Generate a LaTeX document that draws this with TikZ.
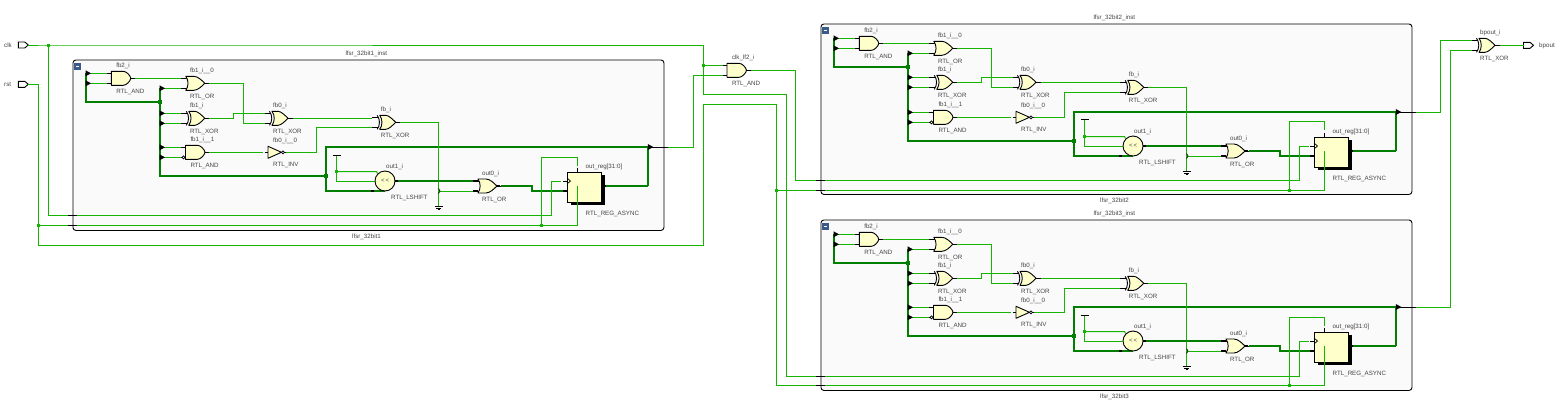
\documentclass[tikz,border=0pt]{standalone}
\usepackage{fontspec}
\setmainfont{Liberation Sans}
\definecolor{wirec}{HTML}{14B400}
\definecolor{busc}{HTML}{007F00}
\definecolor{gatec}{HTML}{FFFFCC}
\definecolor{boxc}{HTML}{FAFAFA}
\definecolor{labc}{HTML}{444444}
\definecolor{iconc}{HTML}{3B5A8C}
\tikzset{
  wire/.style={draw=wirec,line width=1pt},
  bus/.style={draw=busc,line width=2pt},
  pin/.style={draw=black,line width=0.9pt},
  tpin/.style={draw=black,line width=2pt},
  gatebody/.style={draw=black,fill=gatec,line width=0.9pt,line join=round},
  lab/.style={font=\fontsize{6.2}{7}\selectfont,text=labc,inner sep=0pt,anchor=west,yshift=-0.7pt},
  blockbox/.style={draw=black,fill=boxc,line width=0.9pt,rounded corners=3pt},
  dot/.style={fill=wirec},
  dotb/.style={fill=busc},
  portshape/.style={draw=black,fill=white,line width=0.9pt}
}
% gate macros: name, left x, centre y, top label, bottom label
\newcommand\gatelabels[5]{%
  \path (#1) ++(#2,-13) node[lab] (#1-t) {#3};
  \path (#1) ++(#2,13.2) node[lab] (#1-u) {#4};
}
\newcommand\gatepins[1]{%
  \path (#1) ++(-4.5,-5) coordinate (#1-a);
  \path (#1) ++(-4.5,5) coordinate (#1-b);
  \path (#1) ++(19,0) coordinate (#1-e);
  \path (#1) ++(23.5,0) coordinate (#1-o);
  \draw[pin] (#1-a) -- ++(6,0);
  \draw[pin] (#1-b) -- ++(6,0);
  \draw[pin] (#1-e) -- (#1-o);
}
\newcommand\GAND[5]{%
  \coordinate (#1) at (#2,#3);
  \gatepins{#1}
  \begin{scope}[shift={(#2,#3)}]
    \draw[gatebody] (0,-7) -- (12,-7) .. controls (15,-7) and (19,-3) .. (19.5,0)
      .. controls (19,3) and (15,7) .. (12,7) -- (0,7) -- cycle;
  \end{scope}
  \gatelabels{#1}{4.8}{#4}{#5}{}
}
\newcommand\GOR[5]{%
  \coordinate (#1) at (#2,#3);
  \gatepins{#1}
  \begin{scope}[shift={(#2,#3)}]
    \draw[gatebody] (0,-7) -- (8,-7) .. controls (12,-7) and (16,-3) .. (19,0)
      .. controls (16,3) and (12,7) .. (8,7) -- (0,7)
      .. controls (3,3) and (3,-3) .. (0,-7) -- cycle;
  \end{scope}
  \gatelabels{#1}{4}{#4}{#5}{}
}
\newcommand\GXOR[5]{%
  \coordinate (#1) at (#2,#3);
  \gatepins{#1}
  \begin{scope}[shift={(#2,#3)}]
    \draw[gatebody] (3,-7) -- (9,-7) .. controls (12,-7) and (16,-3) .. (19,0)
      .. controls (16,3) and (12,7) .. (9,7) -- (3,7)
      .. controls (6,3) and (6,-3) .. (3,-7) -- cycle;
    \draw[line width=0.9pt] (0.5,-7) .. controls (3.5,-3) and (3.5,3) .. (0.5,7);
  \end{scope}
  \gatelabels{#1}{4}{#4}{#5}{}
}
\newcommand\marker[2]{\fill[black] (#1-0.5,#2-3) -- (#1+5,#2) -- (#1-0.5,#2+3) -- cycle;}
\newcommand\jct[1]{\path[dot] (#1) ++(-1.5,-1.5) rectangle ++(3,3);}
\newcommand\jctb[1]{\path[dotb] (#1) ++(-2,-2) rectangle ++(4,4);}
% block: number, ox, oy, a, b, c, clk y, rst y
\newcommand\lfsrblock[8]{%
\begin{scope}[shift={(#2,#3)}]
  \node[blockbox,minimum width=591pt,minimum height=170.5pt,anchor=north west,inner sep=0pt] (b#1-box) at (0,0) {};
  \path[fill=iconc] (1.5,3) rectangle (8.5,10);
  \draw[white,line width=0.8pt] (3.2,6.5) -- (6.8,6.5);
  \node[lab] (b#1-inst) at (272.8,-6) {lfsr\_32bit#1\_inst};
  \node[lab] (b#1-name) at (279.5,176.8) {lfsr\_32bit#1};
  % named points
  \coordinate (b#1-s1) at (13.5,14.8+#4);
  \coordinate (b#1-s2) at (13.5,24.8+#4);
  \coordinate (b#1-j1) at (87.5,43.5+#4);
  \coordinate (b#1-s3) at (87.5,29.8+#4);
  \coordinate (b#1-s4) at (87.5,53.8);
  \coordinate (b#1-s5) at (87.5,63.8);
  \coordinate (b#1-s6) at (87.5,87.8+#5);
  \coordinate (b#1-s7) at (87.5,97.8+#5);
  \coordinate (b#1-b0) at (87.5,116.5+#5);
  \coordinate (b#1-j2) at (253.5,116.5+#5);
  \coordinate (b#1-t0) at (253.5,87.5+#5);
  \coordinate (b#1-t1) at (253.5,131.5+#5);
  \coordinate (b#1-t2) at (575.8,87.5+#5);
  \coordinate (b#1-t3) at (575.8,126.5+#5);
  \coordinate (b#1-out) at (595.5,87.5+#5);
  \coordinate (b#1-tee) at (264,95.8);
  \coordinate (b#1-tj) at (264,112+#5);
  \coordinate (b#1-ts) at (264,121.5+#5);
  \coordinate (b#1-gnd) at (366,146.5+#5);
  \coordinate (b#1-cl) at (479,#7);
  \coordinate (b#1-ck) at (479,121.5+#5);
  \coordinate (b#1-rl) at (468.8,#8);
  \coordinate (b#1-rt) at (468.8,98);
  \coordinate (b#1-rr) at (504+#6,#8);
  \coordinate (b#1-rp) at (504+#6,98);
  \coordinate (b#1-ec) at (0,#7);
  \coordinate (b#1-er) at (0,#8);
  % buses
  \draw[bus,line join=miter] (b#1-s1) -- (b#1-s1 |- b#1-j1) -- (b#1-j1);
  \draw[bus] (b#1-s3) -- (b#1-b0) -- (b#1-j2);
  \draw[bus] (b#1-t2) -- (b#1-t0) -- (b#1-t1) -- (312,131.5+#5);
  \draw[bus] (b#1-t2) -- (b#1-t3);
  % gates
  \GAND{b#1-fb2}{38.8}{19.8+#4}{fb2\_i}{RTL\_AND}
  \GOR{b#1-fb10}{113.3}{24.8+#4}{fb1\_i\_\_0}{RTL\_OR}
  \GXOR{b#1-fb1}{113.3}{58.8}{fb1\_i}{RTL\_XOR}
  \GAND{b#1-fb11}{113}{92.8+#5}{fb1\_i\_\_1}{RTL\_AND}
  \GXOR{b#1-fb0}{196.5}{58.8}{fb0\_i}{RTL\_XOR}
  \GXOR{b#1-fb}{304.2}{63.8+#4}{fb\_i}{RTL\_XOR}
  \GOR{b#1-out0}{405.4}{126.5+#5}{out0\_i}{RTL\_OR}
  % inverter
  \coordinate (b#1-inv) at (195.5,92.8+#5);
  \coordinate (b#1-invi) at (190.5,92.8+#5);
  \path (b#1-inv) ++(18,0) coordinate (b#1-invo);
  \draw[pin] (b#1-inv) ++(-3,0) -- ++(3,0);
  \draw[pin] (b#1-inv) ++(15,0) -- (b#1-invo);
  \begin{scope}[shift={(195.5,92.8+#5)}]
    \draw[gatebody] (0,-6) -- (13.5,0) -- (0,6) -- cycle;
    \draw[draw=black,fill=white,line width=0.7pt] (15,0) circle (1.5);
  \end{scope}
  \node[lab] (b#1-invt) at (200.5,80.3+#5) {fb0\_i\_\_0};
  \node[lab] (b#1-invu) at (200.5,104.8+#5) {RTL\_INV};
  % bubble on the AND input
  \draw[draw=black,fill=white,line width=0.7pt] (111,97.8+#5) circle (1.5);
  % left shifter
  \node[circle,draw=black,fill=gatec,line width=0.9pt,minimum size=20pt,inner sep=0pt,font=\fontsize{6}{7}\selectfont,text=labc] (b#1-sh) at (312.5,121.5+#5) {<\,<};
  \node[lab] (b#1-sht) at (313.5,106.2+#5) {out1\_i};
  \node[lab] (b#1-shu) at (318.5,137.8+#5) {RTL\_LSHIFT};
  % register
  \fill[black] (493.5+#6+3.5,112+#5+3.5) rectangle (527.5+#6+3.5,142.4+#5+3.5);
  \node[rectangle,draw=black,fill=gatec,line width=0.9pt,minimum width=34pt,minimum height=30.4pt,inner sep=0pt,anchor=north west] (b#1-reg) at (493.5+#6,112+#5) {};
  \node[lab] (b#1-regt) at (512+#6,106.2+#5) {out\_reg[31:0]};
  \node[lab] (b#1-regu) at (512+#6,153.8+#5) {RTL\_REG\_ASYNC};
  \coordinate (b#1-rd) at (b#1-reg.west |- b#1-t1);
  \coordinate (b#1-rc) at (b#1-reg.west |- b#1-ck);
  \coordinate (b#1-ro) at (527.5+#6+3.5,126.5+#5);
  \draw[black,line width=0.7pt] (493.5+#6,118.5+#5) -- (497+#6,121.5+#5) -- (493.5+#6,124.5+#5);
  % wires
  \draw[wire] (b#1-s1) -- (b#1-fb2-a);
  \draw[wire] (b#1-s2) -- (b#1-fb2-b);
  \draw[wire] (b#1-fb2-o) -- (b#1-fb10-a);
  \draw[wire] (b#1-s3) -- (b#1-fb10-b);
  \draw[wire] (b#1-s4) -- (b#1-fb1-a);
  \draw[wire] (b#1-s5) -- (b#1-fb1-b);
  \draw[wire] (b#1-s6) -- (b#1-fb11-a);
  \draw[wire] (b#1-s7) -- (b#1-fb11-b);
  \draw[wire] (b#1-fb10-o) -| (171,63.8) -- (b#1-fb0-b);
  \draw[wire] (b#1-fb1-o) -| (161,53.8) -- (b#1-fb0-a);
  \draw[wire] (b#1-fb11-o) -- (b#1-invi);
  \draw[wire] (b#1-invo) -| (244,68.8+#4) -- (b#1-fb-b);
  \draw[wire] (b#1-fb0-o) -- (b#1-fb0-o -| b#1-fb-a);
  \draw[wire] (b#1-fb-o) -| (b#1-gnd);
  \draw[wire] (b#1-tee) -- (b#1-ts) -- (b#1-sh.west);
  \draw[wire] (b#1-tj) -- (304,112+#5) -- (b#1-sh.north west);
  \draw[wire] (367.5,131.5+#5) -- (b#1-out0-b);
  \jct{b#1-tj}
  \draw[line width=0.9pt] (b#1-tee) ++(-4,0) -- ++(8,0);
  % ground
  \draw[line width=0.8pt] (b#1-gnd) ++(-4,0) -- ++(8,0);
  \draw[line width=0.8pt] (b#1-gnd) ++(-2.5,2) -- ++(5,0);
  \draw[line width=0.8pt] (b#1-gnd) ++(-1,3.6) -- ++(2,0);
  \draw[line width=0.7pt] (366,129+#5) -- (367.5,131.5+#5) -- (366,134+#5);
  % thick nets
  \draw[bus] (b#1-sh.east) -- (b#1-out0-a);
  \draw[tpin] (b#1-sh.east) -- ++(2.5,0);
  \draw[tpin] (b#1-t1 -| b#1-sh.west) ++(-4,0) -- ++(3,0);
  \draw[tpin] (b#1-out0-a) -- ++(5,0);
  \draw[tpin] (b#1-out0-b) -- ++(5,0);
  \draw[bus] (b#1-out0-o) -| (459,131.5+#5) -- (b#1-rd);
  \draw[tpin] (b#1-out0-e) -- ++(3,0);
  \draw[tpin] (b#1-rd) -- ++(-4,0);
  \draw[bus] (b#1-ro) -- (b#1-t3);
  \draw[tpin] (b#1-ro) -- ++(1,0);
  % register control wires
  \draw[wire] (b#1-cl) -- (b#1-ck) -- ++(9,0);
  \draw[pin] (b#1-rc) -- ++(-4,0);
  \draw[wire] (b#1-rl) -- (b#1-rr) -- (b#1-rr |- b#1-ro);
  \draw[wire] (b#1-rl) -- (b#1-rt) -- (b#1-rp) -- ++(0,8);
  \draw[pin] (b#1-rp |- b#1-reg.north) -- ++(0,-4);
  \jct{b#1-rl}
  % output
  \draw[black,line width=0.9pt] (b#1-t2) ++(4,0) -- (b#1-out);
  \jctb{b#1-j1}
  \jctb{b#1-j2}
  \marker{13.5}{14.8+#4}
  \marker{13.5}{24.8+#4}
  \marker{87.5}{29.8+#4}
  \marker{87.5}{53.8}
  \marker{87.5}{63.8}
  \marker{87.5}{87.8+#5}
  \marker{87.5}{97.8+#5}
  \marker{575.8}{87.5+#5}
\end{scope}
}
\begin{document}
\begin{tikzpicture}[x=1pt,y=-1pt]
\useasboundingbox[fill=white] (0,0) rectangle (1562,400);
\lfsrblock{1}{72.5}{59.5}{-1}{0}{1}{155.5}{165.8}
\lfsrblock{2}{820.5}{23.5}{0}{1}{0}{156.8}{166.8}
\lfsrblock{3}{820.5}{219.5}{0}{0}{0}{156.8}{165.8}
% ports
\coordinate (clkp) at (18.3,45);
\coordinate (rstp) at (18.3,84.3);
\coordinate (bpp) at (1523.5,45.3);
\foreach \q in {clkp,rstp,bpp}{
  \draw[portshape] (\q) ++(0,-3) -- ++(6.5,0) -- ++(3.5,3) -- ++(-3.5,3) -- ++(-6.5,0) -- cycle;
}
\path (clkp) ++(10,0) coordinate (clko);
\path (rstp) ++(10,0) coordinate (rsto);
\node[lab] (clkl) at (4,45) {clk};
\node[lab] (rstl) at (4,84.3) {rst};
\node[lab] (bpl) at (1539,45.3) {bpout};
% top level gates
\GAND{clkand}{727}{70.3}{clk\_lf2\_i}{RTL\_AND}
\GXOR{bpx}{1476}{45.3}{bpout\_i}{RTL\_XOR}
% junction points
\coordinate (jclk) at (48.3,45);
\coordinate (cktop) at (703.3,45);
\coordinate (jck2) at (703.3,65.3);
\coordinate (ckdn) at (703.3,94.3);
\coordinate (ckv) at (786.7,94.3);
\coordinate (jrst) at (38.3,225.3);
\coordinate (rstc) at (38.3,84.3);
\coordinate (rstb) at (38.3,245.3);
\coordinate (rstr) at (703.3,245.3);
\coordinate (rstu) at (703.3,104.3);
\coordinate (rstv) at (776.7,104.3);
\coordinate (jrs2) at (776.7,190.3);
\coordinate (lfv) at (795.7,70.3);
\coordinate (o1v) at (693.3,75.3);
\coordinate (o2v) at (1440.3,40.3);
\coordinate (o3v) at (1450.3,50.3);
% clock
\draw[wire] (clko) -- (jclk) -- (cktop) -- (ckdn) -- (ckv) |- (b3-cl);
\draw[wire] (jclk) |- (b1-cl);
\draw[wire] (jck2) -- (clkand-a);
\draw[wire] (clkand-o) -- (lfv) |- (b2-cl);
% reset
\draw[wire] (rsto) -- (rstc) -- (rstb) -- (rstr) -- (rstu) -- (rstv) |- (b3-rl);
\draw[wire] (jrst) -- (b1-rl);
\draw[wire] (jrs2) -- (b2-rl);
% outputs
\draw[wire] (b1-out) -| (o1v) -- (clkand-b);
\draw[wire] (b2-out) -| (o2v) -- (bpx-a);
\draw[wire] (b3-out) -| (o3v) -- (bpx-b);
\draw[wire] (bpx-o) -- (bpp);
\jct{jclk}
\jct{jck2}
\jct{jrst}
\jct{jrs2}
% crossings of the block edges
\foreach \n in {1,2,3}{
  \draw[pin] (b\n-ec) ++(-4.5,0) -- ++(9,0);
  \draw[pin] (b\n-er) ++(-4.5,0) -- ++(9,0);
  \draw[pin] (b\n-t2) ++(6,0) -- (b\n-out);
}
\end{tikzpicture}
\end{document}
